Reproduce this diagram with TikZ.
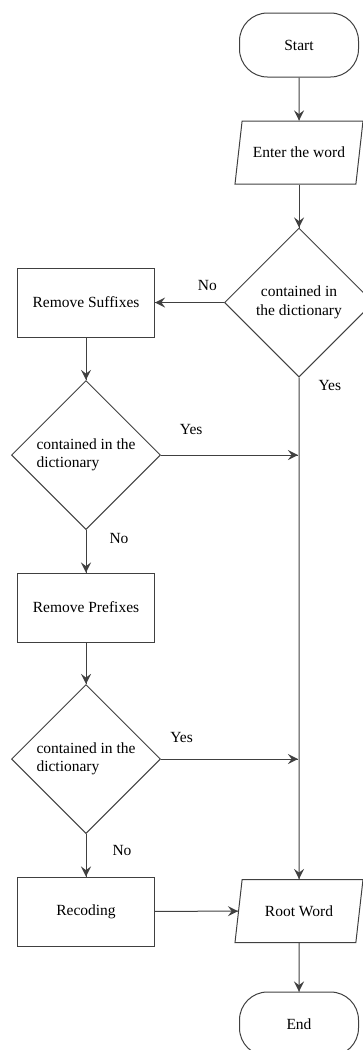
\documentclass[tikz,border=0pt]{standalone}
\usepackage{fontspec}
\setmainfont{Liberation Serif}
\tikzset{->/.style = {decoration={markings, mark=at position 1 with {\arrow[scale=2.2]{stealth}}}, postaction={decorate}}}
\tikzset{startstop/.style = {draw, rectangle, rounded corners=28pt, minimum width=119pt, minimum height=64pt}}
\tikzset{inout/.style = {draw, trapezium, trapezium left angle=68, trapezium right angle=112, trapezium stretches body, minimum width=128pt, minimum height=63pt}}
\tikzset{procbox/.style = {draw, rectangle, minimum width=137pt, minimum height=69pt}}
\tikzset{decide/.style = {draw, diamond, inner sep=0pt, minimum width=149pt, minimum height=149pt}}
\tikzset{lbl/.style = {inner sep=2pt}}
\usetikzlibrary{shapes.geometric,
                 decorations.markings}

\begin{document}
\begin{tikzpicture}[x=1pt, y=-1pt, line width=1pt, color=black!75,
      font=\fontsize{15.5}{18.5}\selectfont, every node/.append style={text=black}]
      \useasboundingbox (0,0) rectangle (363,1050);
      \node [startstop] (start) at (299,45) {Start};
      \node [inout] (enter) at (299,152.5) {Enter the word};
      \node [decide, align=center] (d1) at (299,302.5) {contained in\\the dictionary};
      \node [procbox] (suffix) at (86,302.5) {Remove Suffixes};
      \node [decide, align=left] (d2) at (86,455) {contained in the\\dictionary};
      \node [procbox] (prefix) at (86,607.5) {Remove Prefixes};
      \node [decide, align=left] (d3) at (86,759) {contained in the\\dictionary};
      \node [procbox] (recode) at (86,911.5) {Recoding};
      \node [inout] (root) at (299,911) {Root Word};
      \node [startstop] (end) at (299,1024) {End};
      \coordinate (j1) at (298,455);
      \coordinate (j2) at (298,759);
      \draw [->] (start) -- (enter);
      \draw [->] (enter) -- (d1);
      \draw [->] (d1.west) -- (suffix.east) node [lbl, pos = 0.24, above=9pt] {No};
      \draw [->] (suffix) -- (d2);
      \draw [->] (d2.east) -- (j1) node [lbl, pos = 0.22, above=18pt] {Yes};
      \draw [->] (d2) -- (prefix) node [lbl, pos = 0.2, right=21pt] {No};
      \draw [->] (prefix) -- (d3);
      \draw [->] (d3.east) -- (j2) node [lbl, pos = 0.15, above=14pt] {Yes};
      \draw [->] (d3) -- (recode) node [lbl, pos = 0.39, right=24pt] {No};
      \draw [->] (d1) -- (root) node [lbl, pos = 0.016, right=17pt] {Yes};
      \draw [->] (recode) -- (root);
      \draw [->] (root) -- (end);
    \end{tikzpicture}
\end{document}
